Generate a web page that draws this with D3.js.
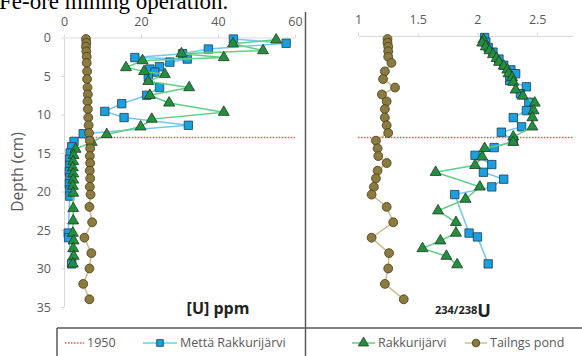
<!DOCTYPE html>
<html>
<head>
<meta charset="utf-8">
<script src="https://cdn.jsdelivr.net/npm/d3@7"></script>
<style>
  body { margin: 0; background: #fff; }
  svg { display: block; }
</style>
</head>
<body>
<script>
var w = 582;
var h = 356;

// depth ticks shared by both panels
var depthTicks = [0, 5, 10, 15, 20, 25, 30, 35];
var uTicks = [0, 20, 40, 60];
var ratioTicks = [1, 1.5, 2, 2.5];
var year1950Depth = 13;

// Mettä Rakkurijärvi core
var mettaDepthU = [0.2, 0.75, 1.5, 2.1, 2.6, 2.8, 3.2, 3.8, 4.1, 4.5, 5.1, 6.5, 7.5, 8.6, 9.6, 10.4, 11.4, 12.5, 13.5, 14.2, 15.0, 15.8, 16.6, 17.4, 18.2, 19.0, 19.8, 20.6, 25.4, 26.0, 29.4];
var mettaU = [44, 57.7, 37.5, 30.8, 18.4, 32, 27.5, 24.8, 22.3, 23.6, 21.9, 24.8, 21.5, 15, 10.6, 15.6, 32.3, 5, 2.6, 2, 1.6, 1.5, 1.5, 1.4, 1.5, 1.4, 1.5, 1.5, 1.1, 1.2, 2];
var mettaDepthR = [0, 0.6, 1.3, 1.9, 2.8, 3.6, 4.2, 4.7, 5.6, 6.4, 7.3, 8.4, 9.5, 10.4, 11.6, 12.3, 13.4, 14.3, 15.3, 16.5, 17.5, 18.4, 19.4, 20.4, 25.4, 25.9, 29.4];
var mettaR = [2.06, 2.07, 2.09, 2.13, 2.18, 2.22, 2.28, 2.32, 2.27, 2.41, 2.36, 2.43, 2.41, 2.30, 2.37, 2.20, 2.30, 2.14, 1.98, 2.12, 2.05, 2.22, 2.12, 1.81, 1.93, 2.00, 2.09];

// Rakkurijärvi core
var rakkDepthU = [0.3, 0.8, 1.7, 2.1, 2.6, 3.0, 3.9, 4.4, 4.8, 5.7, 6.5, 7.5, 8.5, 9.7, 10.6, 11.6, 12.6, 13.6, 14.5, 15.3, 16.1, 16.9, 17.7, 18.5, 19.3, 20.2, 22.2, 23.8, 25.4, 26.4, 27.4, 28.4, 29.4];
var rakkU = [55.1, 43.9, 51.7, 30.5, 41.5, 20.4, 16.1, 20.8, 26.2, 21.9, 32.5, 22.3, 27.3, 41.5, 22.8, 19.9, 11.1, 7.2, 3, 2.5, 2.4, 2.3, 2.4, 2.4, 2.3, 2.4, 2.4, 2.4, 2.3, 2.5, 2.4, 2.5, 2.3];
var rakkDepthR = [0.3, 0.7, 1.2, 1.7, 2.2, 2.7, 3.2, 3.7, 4.2, 4.7, 5.2, 5.8, 6.8, 7.6, 8.5, 9.5, 10.4, 11.6, 12.9, 13.6, 14.4, 15.5, 16.6, 17.5, 19.4, 21.0, 22.5, 24.0, 25.4, 26.4, 27.4, 28.4, 29.5];
var rakkR = [2.05, 2.04, 2.07, 2.10, 2.13, 2.16, 2.18, 2.22, 2.25, 2.26, 2.29, 2.30, 2.32, 2.38, 2.48, 2.47, 2.46, 2.46, 2.30, 2.30, 2.06, 2.04, 1.98, 1.65, 2.02, 1.90, 1.67, 1.82, 1.82, 1.69, 1.54, 1.74, 1.83];

// Tailings pond
var tailDepth = [0.2, 0.7, 1.2, 1.8, 2.5, 3.3, 4.4, 5.4, 6.5, 7.4, 8.3, 9.3, 10.4, 11.4, 12.4, 13.4, 14.4, 15.4, 16.3, 17.3, 18.3, 19.4, 20.4, 22, 24, 26, 28, 30, 32, 34];
var tailU = [5.7, 5.8, 5.7, 5.8, 5.9, 5.9, 6.0, 6.0, 6.1, 6.2, 6.1, 6.2, 6.3, 6.4, 6.5, 6.7, 6.8, 6.7, 6.8, 6.7, 6.8, 6.7, 6.9, 6.6, 7.3, 5.3, 7.1, 6.6, 5.0, 6.6];
var tailR = [1.247, 1.247, 1.253, 1.253, 1.253, 1.28, 1.225, 1.21, 1.31, 1.20, 1.24, 1.225, 1.225, 1.24, 1.253, 1.15, 1.164, 1.17, 1.24, 1.164, 1.15, 1.133, 1.114, 1.24, 1.295, 1.114, 1.26, 1.253, 1.225, 1.383];

var svg = d3.select("body").append("svg")
    .attr("width", w)
    .attr("height", h);

// cut-off caption above the figure
svg.append("text")
    .attr("x", -1).attr("y", 9)
    .style("font-family", "Liberation Serif")
    .style("font-size", "23px")
    .attr("fill", "#000")
    .text("Fe-ore mining operation.");

var y = d3.scaleLinear().domain([0, 35]).range([37.5, 307]);
var xU = d3.scaleLinear().domain([0, 60]).range([64, 295]);
var xR = d3.scaleLinear().domain([1, 2.8]).range([358, 573]);

function styleAxis(g) {
    g.select(".domain").attr("stroke", "#d9d9d9");
    g.selectAll(".tick line").attr("stroke", "#d9d9d9");
    g.selectAll(".tick text")
        .attr("fill", "#595959")
        .style("font-family", "Open Sans")
        .style("font-size", "12.5px");
}

svg.append("g")
    .attr("transform", "translate(0," + y(0) + ")")
    .call(d3.axisTop(xU).tickValues(uTicks).tickSize(3).tickPadding(9).tickSizeOuter(0))
    .call(styleAxis);

svg.append("g")
    .attr("transform", "translate(" + xU(0) + ",0)")
    .call(d3.axisLeft(y).tickValues(depthTicks).tickSize(3).tickPadding(10).tickSizeOuter(0))
    .call(styleAxis);

svg.append("g")
    .attr("transform", "translate(0," + (y(0) - 1.5) + ")")
    .call(d3.axisTop(xR).tickValues(ratioTicks).tickFormat(d3.format("")).tickSize(3).tickPadding(9).tickSizeOuter(0))
    .call(styleAxis);

svg.append("text")
    .attr("transform", "translate(23,172) rotate(-90)")
    .attr("text-anchor", "middle")
    .attr("fill", "#595959")
    .style("font-family", "Open Sans")
    .style("font-size", "15.5px")
    .text("Depth (cm)");

// 1950 marker line in both panels
var redLine = [[xU(2), xU(60)], [xR(1), xR(2.8)]];
svg.selectAll("line.y1950")
    .data(redLine)
    .enter().append("line")
    .attr("class", "y1950")
    .attr("x1", function(d){return d[0];})
    .attr("x2", function(d){return d[1];})
    .attr("y1", y(year1950Depth))
    .attr("y2", y(year1950Depth))
    .attr("stroke", "#ff4f4f")
    .attr("stroke-width", 1.5)
    .attr("stroke-dasharray", "1.5,1.5");

var series = [
    {xs: mettaU, ds: mettaDepthU, x: xU, line: "#74c8ef", fill: "#1aa0de", stroke: "#1d3d52", shape: "square"},
    {xs: mettaR, ds: mettaDepthR, x: xR, line: "#74c8ef", fill: "#1aa0de", stroke: "#1d3d52", shape: "square"},
    {xs: rakkU, ds: rakkDepthU, x: xU, line: "#5fcf86", fill: "#24903f", stroke: "#1c3a22", shape: "triangle"},
    {xs: rakkR, ds: rakkDepthR, x: xR, line: "#5fcf86", fill: "#24903f", stroke: "#1c3a22", shape: "triangle"},
    {xs: tailU, ds: tailDepth, x: xU, line: "#cdbd8f", fill: "#8c7b3e", stroke: "#433a1c", shape: "circle"},
    {xs: tailR, ds: tailDepth, x: xR, line: "#cdbd8f", fill: "#8c7b3e", stroke: "#433a1c", shape: "circle"}
];

var symbols = {
    square: d3.symbol().type(d3.symbolSquare).size(70),
    triangle: d3.symbol().type(d3.symbolTriangle).size(52),
    circle: d3.symbol().type(d3.symbolCircle).size(62)
};

series.forEach(function(s) {
    var pts = s.xs.map(function(v, i){ return [s.x(v), y(s.ds[i])]; });
    var g = svg.append("g");
    g.append("path")
        .attr("d", d3.line()(pts))
        .attr("fill", "none")
        .attr("stroke", s.line)
        .attr("stroke-width", 1.5);
    g.selectAll("path.mk")
        .data(pts)
        .enter().append("path")
        .attr("class", "mk")
        .attr("transform", function(d){ return "translate(" + d[0] + "," + d[1] + ")"; })
        .attr("d", symbols[s.shape])
        .attr("fill", s.fill)
        .attr("stroke", s.stroke)
        .attr("stroke-width", 0.8);
});

// panel titles
svg.append("text")
    .attr("x", 218).attr("y", 314)
    .attr("text-anchor", "middle")
    .style("font-family", "Open Sans")
    .style("font-size", "16px")
    .style("font-weight", "bold")
    .attr("fill", "#222")
    .text("[U] ppm");

var rt = svg.append("text")
    .attr("x", 435).attr("y", 317)
    .style("font-family", "Open Sans")
    .style("font-weight", "bold")
    .attr("fill", "#222");
rt.append("tspan").style("font-size", "11px").attr("dy", "-3").text("234/238");
rt.append("tspan").style("font-size", "18px").attr("dy", "3").text("U");

// divider and legend frame
svg.append("line")
    .attr("x1", 305.5).attr("x2", 305.5).attr("y1", 12).attr("y2", h)
    .attr("stroke", "#595959").attr("stroke-width", 1.5);
svg.append("line")
    .attr("x1", 57).attr("x2", w).attr("y1", 328).attr("y2", 328)
    .attr("stroke", "#595959").attr("stroke-width", 1.5);
svg.append("line")
    .attr("x1", 57).attr("x2", 57).attr("y1", 328).attr("y2", h)
    .attr("stroke", "#595959").attr("stroke-width", 1.5);

var legendNames = ["1950", "Mettä Rakkurijärvi", "Rakkurijärvi", "Tailngs pond"];
var legendX = [65, 143, 352, 465];
var legendLen = [19, 34, 23, 22];
var legendStyle = [
    {line: "#ff4f4f", dash: "1.5,1.5", shape: null},
    {line: "#74c8ef", fill: "#1aa0de", stroke: "#1d3d52", shape: "square"},
    {line: "#5fcf86", fill: "#24903f", stroke: "#1c3a22", shape: "triangle"},
    {line: "#cdbd8f", fill: "#8c7b3e", stroke: "#433a1c", shape: "circle"}
];

var legend = svg.selectAll("g.leg")
    .data(legendNames)
    .enter().append("g")
    .attr("class", "leg")
    .attr("transform", function(d, i){ return "translate(" + legendX[i] + ",343)"; });

legend.append("line")
    .attr("x1", 0)
    .attr("x2", function(d, i){ return legendLen[i]; })
    .attr("stroke", function(d, i){ return legendStyle[i].line; })
    .attr("stroke-width", 1.5)
    .attr("stroke-dasharray", function(d, i){ return legendStyle[i].dash || null; });

legend.filter(function(d, i){ return legendStyle[i].shape; })
    .append("path")
    .attr("transform", function(d){ return "translate(" + legendLen[legendNames.indexOf(d)] / 2 + ",0)"; })
    .attr("d", function(d){ return symbols[legendStyle[legendNames.indexOf(d)].shape].size(45)(); })
    .attr("fill", function(d){ return legendStyle[legendNames.indexOf(d)].fill; })
    .attr("stroke", function(d){ return legendStyle[legendNames.indexOf(d)].stroke; })
    .attr("stroke-width", 0.8);

legend.append("text")
    .attr("x", function(d, i){ return legendLen[i] + 3; })
    .attr("dy", "0.35em")
    .style("font-family", "Open Sans")
    .style("font-size", "12.5px")
    .attr("fill", "#595959")
    .text(function(d){ return d; });
</script>
</body>
</html>
